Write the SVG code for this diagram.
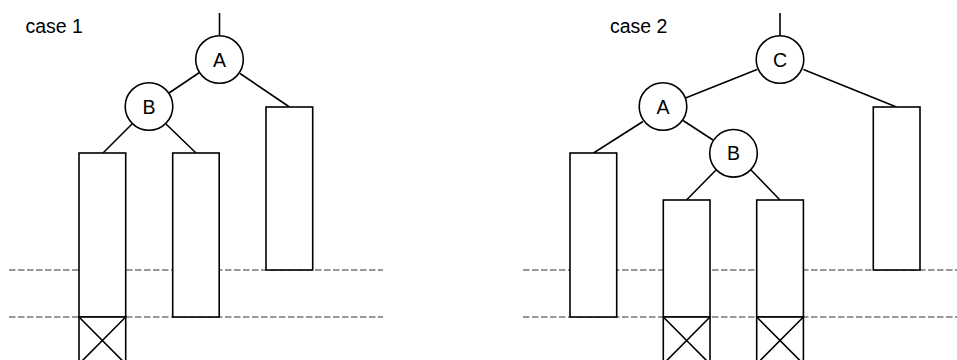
<svg xmlns="http://www.w3.org/2000/svg" width="957" height="360" viewBox="0 0 957 360">
<style>
.bg{fill:#fff}
.edge{stroke:#000;stroke-width:1.6;fill:none}
.guide{stroke:#333;stroke-width:1.2;stroke-dasharray:6.5,2.5;fill:none}
.circ{fill:#fff;stroke:#000;stroke-width:1.6}
.box{fill:#fff;stroke:#000;stroke-width:1.6}
.lbl{font-family:"Liberation Sans",Arial,sans-serif;font-size:19.5px;fill:#000;text-anchor:middle}
.cap{font-family:"Liberation Sans",Arial,sans-serif;font-size:19.5px;fill:#000}
</style>
<rect class="bg" x="0" y="0" width="957" height="360"/>
<g id="guides">
<line class="guide" x1="9" y1="270" x2="383" y2="270"/>
<line class="guide" x1="9" y1="317" x2="383" y2="317"/>
<line class="guide" x1="523" y1="270" x2="957" y2="270"/>
<line class="guide" x1="523" y1="317" x2="957" y2="317"/>
</g>
<text class="cap" x="25.5" y="32.7">case 1</text>
<text class="cap" x="610" y="32.7">case 2</text>
<g id="connectors">
<line class="edge" x1="219.5" y1="13" x2="219.5" y2="36"/>
<line class="edge" x1="199.5" y1="72.5" x2="169" y2="93"/>
<line class="edge" x1="240" y1="73.5" x2="289.5" y2="107"/>
<line class="edge" x1="132" y1="124" x2="103" y2="153"/>
<line class="edge" x1="166" y1="124" x2="196" y2="153"/>
<line class="edge" x1="780" y1="13" x2="780" y2="36"/>
<line class="edge" x1="757" y1="69.5" x2="685.5" y2="98"/>
<line class="edge" x1="803.5" y1="69.5" x2="896.5" y2="107"/>
<line class="edge" x1="643" y1="121.5" x2="593.5" y2="153"/>
<line class="edge" x1="683" y1="120.5" x2="713" y2="140"/>
<line class="edge" x1="716" y1="170" x2="686.5" y2="200"/>
<line class="edge" x1="751" y1="170" x2="780" y2="200"/>
</g>
<g id="c1-A"><circle class="circ" cx="219.5" cy="59.5" r="23.8"/><text class="lbl" x="219.5" y="66.5">A</text></g>
<g id="c1-B"><circle class="circ" cx="149" cy="106.5" r="23.8"/><text class="lbl" x="149" y="113.5">B</text></g>
<g id="c1-left"><rect class="box" x="79" y="153" width="46.7" height="164"/></g>
<g id="c1-left-x"><rect class="box" x="79" y="317" width="46.7" height="47"/><path class="edge" d="M79,317 L125.7,364 M125.7,317 L79,364"/></g>
<g id="c1-mid"><rect class="box" x="172.7" y="153" width="46.5" height="164"/></g>
<g id="c1-right"><rect class="box" x="266" y="107" width="46.7" height="163"/></g>
<g id="c2-C"><circle class="circ" cx="780" cy="59.5" r="23.8"/><text class="lbl" x="780" y="66.5">C</text></g>
<g id="c2-A"><circle class="circ" cx="663" cy="106.5" r="23.8"/><text class="lbl" x="663" y="113.5">A</text></g>
<g id="c2-B"><circle class="circ" cx="733.5" cy="153.3" r="23.8"/><text class="lbl" x="733.5" y="160.3">B</text></g>
<g id="c2-left"><rect class="box" x="570" y="153" width="46.7" height="164"/></g>
<g id="c2-mid"><rect class="box" x="663.3" y="200" width="46.7" height="117"/></g>
<g id="c2-mid-x"><rect class="box" x="663.3" y="317" width="46.7" height="47"/><path class="edge" d="M663.3,317 L710,364 M710,317 L663.3,364"/></g>
<g id="c2-right2"><rect class="box" x="756.7" y="200" width="46.7" height="117"/></g>
<g id="c2-right2-x"><rect class="box" x="756.7" y="317" width="46.7" height="47"/><path class="edge" d="M756.7,317 L803.4,364 M803.4,317 L756.7,364"/></g>
<g id="c2-right"><rect class="box" x="873.3" y="107" width="46.7" height="163"/></g>
</svg>
